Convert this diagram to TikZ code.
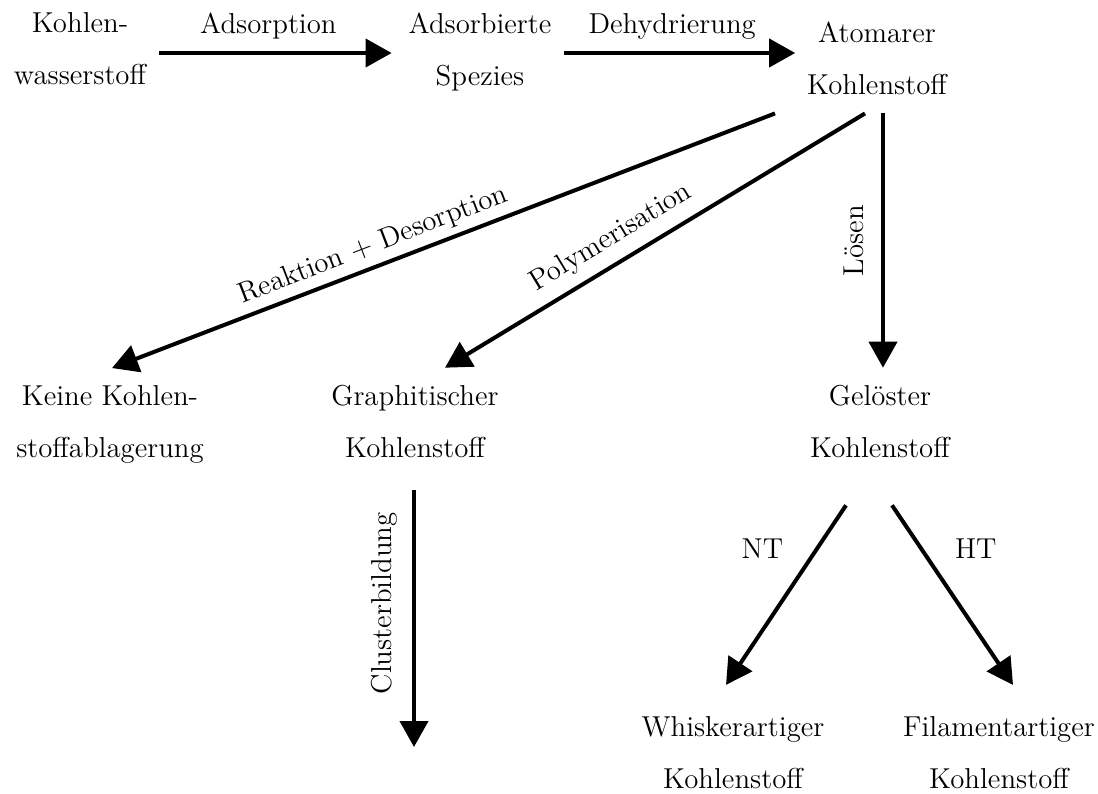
\documentclass[tikz,border=0pt]{standalone}
\usepackage{tikz}
\usetikzlibrary{arrows.meta, positioning, calc}
\tikzstyle{species} = [align=center, inner sep=0pt, outer sep=0pt,
                       font=\fontsize{14.4}{26}\selectfont]
\tikzstyle{reaction} = [inner sep=0pt, font=\fontsize{14.4}{17}\selectfont]
\tikzstyle{arrow} = [-{Triangle[length=13pt, width=14pt]}, line width=2pt]
\tikzstyle{backarrow} = [{Triangle[length=13pt, width=14pt]}-, line width=2pt]

\begin{document}
\begin{tikzpicture}[x=0.5pt, y=-0.5pt]
    \useasboundingbox (0,0) rectangle (1098,793);

    % Row 1
    \node[species] (kw) at (80,49) {Kohlen-\\wasserstoff};
    \node[species] (ads) at (480,52) {Adsorbierte\\Spezies};
    \node[species] (atom) at (877,58) {Atomarer\\Kohlenstoff};

    % Row 2
    \node[species] (none) at (110,424) {Keine Kohlen-\\stoffablagerung};
    \node[species] (graph) at (415,421) {Graphitischer\\Kohlenstoff};
    \node[species] (sol) at (880,421) {Gelöster\\Kohlenstoff};
    \coordinate (cluster) at (414,747);

    % Row 3
    \node[species] (whisk) at (733,753) {Whiskerartiger\\Kohlenstoff};
    \node[species] (fil) at (999,753) {Filamentartiger\\Kohlenstoff};

    % Arrows Row 1
    \draw[arrow] ($(kw.east)+(13,4)$) -- node[reaction, above=6pt, pos=0.47] {Adsorption} ($(ads.west)+(-17,1)$);
    \draw[arrow] ($(ads.east)+(13,1)$) -- node[reaction, above=6pt, pos=0.467] {Dehydrierung} ($(atom.west)+(-12,-5)$);

    % Arrows down from atomic carbon
    \draw[arrow] ($(atom.south)+(-102,19)$) -- node[reaction, sloped, above=3pt, pos=0.595] {Reaktion + Desorption} ($(none.north)+(2,-17)$);
    \draw[arrow] ($(atom.south)+(-12,19)$) -- node[reaction, sloped, above=5pt, pos=0.574] {Polymerisation} ($(graph.north)+(30,-17)$);
    \draw[backarrow] ($(sol.north)+(3,-17)$) -- node[reaction, sloped, above=8.5pt] {Lösen} ($(atom.south)+(6,19)$);

    % Arrow down
    \draw[backarrow] (cluster) -- node[reaction, sloped, above=7.5pt, pos=0.56] {Clusterbildung} ($(graph.south)+(-1,33)$);

    % Arrows Row 3
    \draw[arrow] ($(sol.south)+(-34,48)$) -- node[reaction, left=16pt, pos=0.24] {NT} ($(whisk.north)+(-7,-32)$);
    \draw[arrow] ($(sol.south)+(12,48)$) -- node[reaction, right=16pt, pos=0.24] {HT} ($(fil.north)+(14,-32)$);
\end{tikzpicture}
\end{document}
